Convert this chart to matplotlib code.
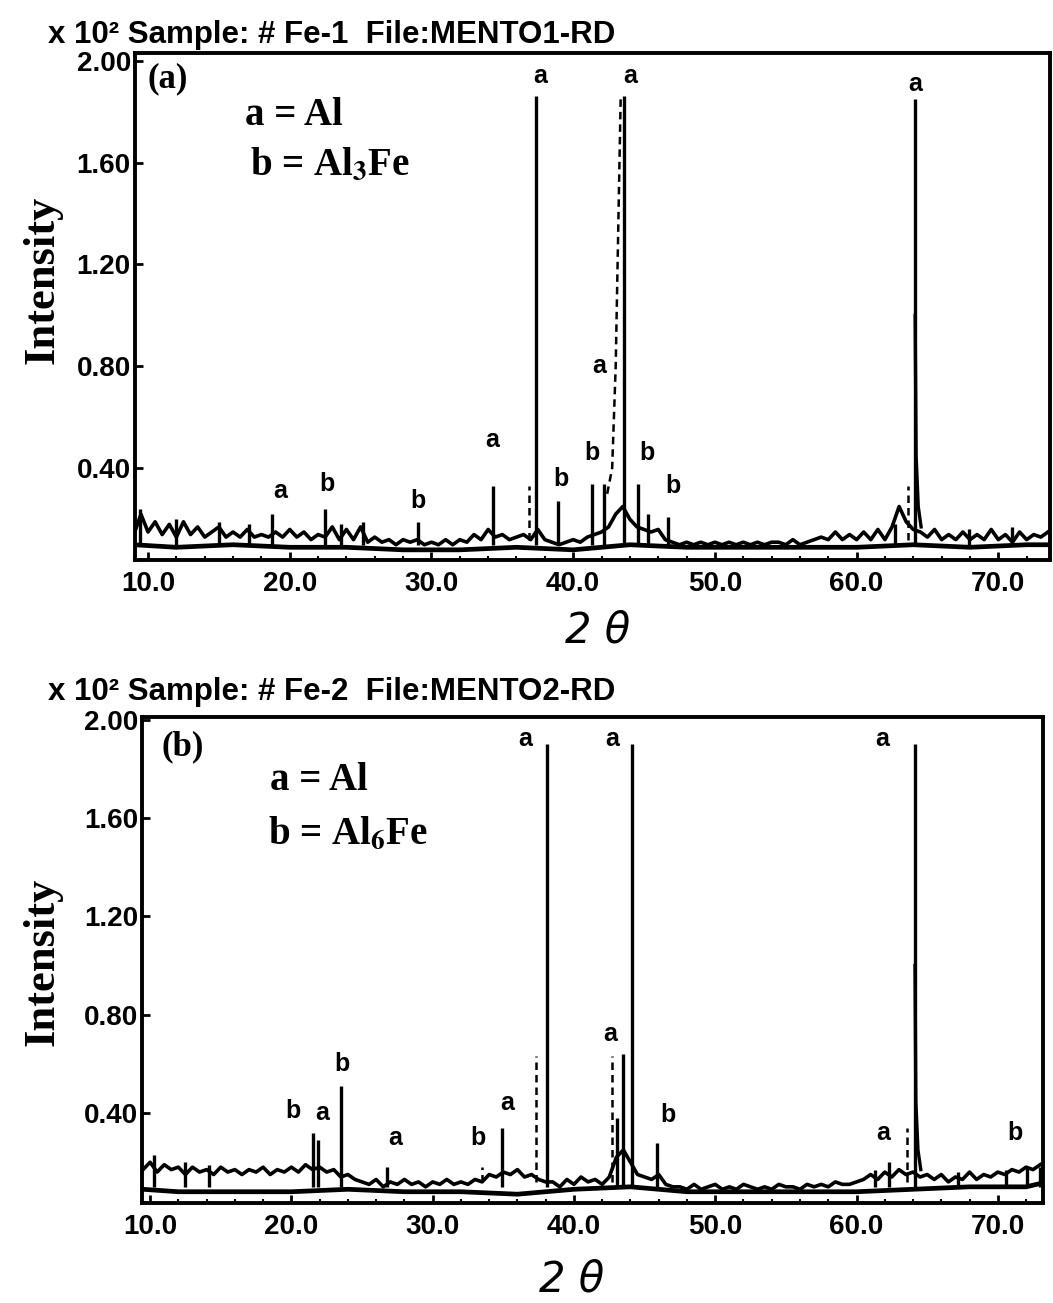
import numpy as np
import matplotlib
matplotlib.use("Agg")
import matplotlib.pyplot as plt

plt.rcParams['mathtext.fontset'] = 'stix'

# ---------------- panel (a) : Fe-1 ----------------
title_a = "x 10² Sample: # Fe-1  File:MENTO1-RD"
bg_a_theta = np.arange(9.0, 74.0, 0.5)
bg_a_upper = [0.14, 0.22, 0.15, 0.19, 0.14, 0.18, 0.13, 0.19, 0.14, 0.17, 0.13, 0.15, 0.17,
              0.13, 0.15, 0.13, 0.16, 0.13, 0.14, 0.13, 0.15, 0.13, 0.16, 0.13, 0.15, 0.12,
              0.14, 0.13, 0.17, 0.12, 0.16, 0.12, 0.17, 0.11, 0.13, 0.11, 0.12, 0.10, 0.12,
              0.11, 0.12, 0.10, 0.11, 0.10, 0.12, 0.10, 0.12, 0.11, 0.14, 0.12, 0.16, 0.13,
              0.14, 0.12, 0.13, 0.14, 0.12, 0.16, 0.12, 0.11, 0.10, 0.11, 0.12, 0.11, 0.13,
              0.14, 0.15, 0.17, 0.22, 0.25, 0.20, 0.17, 0.16, 0.15, 0.16, 0.12, 0.11, 0.10,
              0.11, 0.10, 0.11, 0.10, 0.11, 0.10, 0.11, 0.10, 0.11, 0.10, 0.11, 0.10, 0.11,
              0.11, 0.10, 0.12, 0.10, 0.11, 0.12, 0.13, 0.12, 0.15, 0.12, 0.14, 0.12, 0.15,
              0.12, 0.16, 0.12, 0.17, 0.25, 0.19, 0.16, 0.15, 0.13, 0.16, 0.12, 0.14, 0.12,
              0.15, 0.12, 0.14, 0.12, 0.16, 0.12, 0.14, 0.11, 0.15, 0.12, 0.14, 0.13, 0.15]
low_a_theta = [9.0, 12.0, 16.0, 20.0, 24.0, 28.0, 32.0, 36.0, 40.0, 44.0, 48.0, 52.0,
               56.0, 60.0, 64.0, 68.0, 72.0, 74.0]
low_a = [0.10, 0.09, 0.10, 0.09, 0.09, 0.08, 0.08, 0.09, 0.08, 0.10, 0.09, 0.09,
         0.09, 0.09, 0.10, 0.09, 0.10, 0.10]
peak_a_pos = [9.4, 12.0, 15.0, 17.1, 18.75, 22.5, 23.6, 25.2, 29.05, 34.35, 37.38, 38.9,
              41.3, 42.2, 43.6, 44.6, 45.3, 46.7, 62.7, 64.13, 67.9, 71.0]
peak_a_h = [0.24, 0.20, 0.19, 0.18, 0.22, 0.24, 0.18, 0.19, 0.19, 0.33, 1.86, 0.27,
            0.34, 0.34, 1.86, 0.34, 0.22, 0.21, 0.18, 1.85, 0.16, 0.17]
dash_a_pos = [36.85, 63.6]
dash_a_h = [0.33, 0.33]
shoulder_a_theta = [42.4, 42.75, 43.0, 43.2, 43.35]
shoulder_a_I = [0.30, 0.40, 0.80, 1.40, 1.85]
tail_a_theta = [64.13, 64.2, 64.35, 64.55]
tail_a_I = [1.00, 0.45, 0.25, 0.17]
lab_a_text = ['a', 'b', 'b', 'a', 'b', 'b', 'a', 'b', 'b', 'a', 'a', 'a']
lab_a_theta = [19.3, 22.6, 29.05, 34.3, 39.15, 41.3, 41.8, 45.2, 47.05, 37.65, 44.0, 64.1]
lab_a_I = [0.31, 0.34, 0.27, 0.51, 0.36, 0.46, 0.80, 0.46, 0.33, 1.94, 1.94, 1.91]

# ---------------- panel (b) : Fe-2 ----------------
title_b = "x 10² Sample: # Fe-2  File:MENTO2-RD"
bg_b_theta = np.arange(9.5, 73.5, 0.5)
bg_b_upper = [0.17, 0.20, 0.16, 0.19, 0.17, 0.18, 0.15, 0.18, 0.16, 0.17,   # 9.5-14
              0.15, 0.18, 0.16, 0.17, 0.15, 0.17, 0.16, 0.18, 0.15, 0.17,   # 14.5-19
              0.16, 0.18, 0.16, 0.19, 0.17, 0.18, 0.16, 0.17, 0.14, 0.15,   # 19.5-24
              0.13, 0.12, 0.11, 0.13, 0.10, 0.12, 0.11, 0.13, 0.11, 0.12,   # 24.5-29
              0.10, 0.12, 0.11, 0.13, 0.11, 0.12, 0.11, 0.13, 0.12, 0.15,   # 29.5-34
              0.14, 0.16, 0.15, 0.17,                                       # 34.5-36
              0.14, 0.15, 0.13, 0.12,                                       # 36.5-38
              0.12, 0.10, 0.13, 0.11, 0.14, 0.12, 0.13, 0.11, 0.14,         # 38.5-42.5
              0.22, 0.25, 0.20, 0.15,                                       # 43-44.5
              0.14, 0.13, 0.15, 0.11, 0.10,                                 # 45-47
              0.10, 0.09, 0.11, 0.09, 0.10, 0.11, 0.09, 0.10, 0.09, 0.11,   # 47.5-52
              0.10, 0.09, 0.10, 0.09, 0.11, 0.10, 0.10, 0.09, 0.11, 0.10,   # 52.5-57
              0.11, 0.10, 0.12, 0.11, 0.11, 0.12,                           # 57.5-60
              0.13, 0.15, 0.13, 0.16, 0.14, 0.17, 0.15, 0.16,               # 60.5-64
              0.14, 0.15, 0.13, 0.15, 0.12, 0.14, 0.13, 0.16, 0.13, 0.15,   # 64.5-69
              0.14, 0.16, 0.15, 0.17, 0.16, 0.18, 0.17, 0.19]               # 69.5-73
low_b_theta = [9.5, 12.0, 16.0, 20.0, 24.0, 28.0, 32.0, 36.0, 40.0, 44.0, 48.0, 52.0,
               56.0, 60.0, 64.0, 68.0, 72.0, 73.5]
low_b = [0.09, 0.08, 0.08, 0.08, 0.09, 0.08, 0.08, 0.07, 0.09, 0.10, 0.08, 0.08,
         0.08, 0.08, 0.09, 0.10, 0.10, 0.12]
peak_b_pos = [10.3, 12.5, 14.2, 21.5, 21.9, 23.5, 26.8, 34.9, 38.1, 43.05, 43.5, 44.1,
              45.9, 61.3, 62.3, 64.14, 67.2, 70.6, 72.1, 73.0]
peak_b_h = [0.23, 0.20, 0.19, 0.32, 0.29, 0.51, 0.18, 0.34, 1.90, 0.38, 0.64, 1.90,
            0.28, 0.17, 0.20, 1.90, 0.16, 0.17, 0.18, 0.18]
dash_b_pos = [33.5, 37.3, 42.7, 63.6]
dash_b_h = [0.18, 0.63, 0.63, 0.34]
tail_b_theta = [64.14, 64.2, 64.35, 64.55]
tail_b_I = [1.00, 0.45, 0.25, 0.17]
lab_b_text = ['b', 'a', 'b', 'a', 'b', 'a', 'a', 'b', 'a', 'b', 'a', 'a', 'a']
lab_b_theta = [20.1, 22.2, 23.6, 27.35, 33.2, 35.3, 42.55, 46.65, 61.9, 71.2, 36.55, 42.7, 61.8]
lab_b_I = [0.41, 0.40, 0.60, 0.30, 0.30, 0.44, 0.72, 0.39, 0.32, 0.32, 1.92, 1.92, 1.92]

xticks = [10, 20, 30, 40, 50, 60, 70]
yticks = [0.40, 0.80, 1.20, 1.60, 2.00]

sans = ['Liberation Sans', 'DejaVu Sans']
serif = ['Liberation Serif', 'DejaVu Serif']

fig = plt.figure(figsize=(10.53, 13.03), dpi=100)
ax_a = fig.add_axes([0.1282, 0.5702, 0.869, 0.3891])
ax_b = fig.add_axes([0.1349, 0.0767, 0.8556, 0.3730])


def draw(ax, bt, bu, lt, lo, pp, ph, dp, dh, tt, ti, lt_, lx, ly, xlim, ylim):
    ax.plot(bt, bu, color='black', lw=2.6)
    ax.plot(lt, lo, color='black', lw=3.4)
    ax.vlines(pp, 0.10, ph, color='black', lw=2.4)
    ax.vlines(dp, 0.12, dh, color='black', lw=1.8, linestyles=(0, (3, 2)))
    ax.plot(tt, ti, color='black', lw=2.4)
    for t, x, y in zip(lt_, lx, ly):
        ax.text(x, y, t, fontsize=18, fontweight='bold', family=sans,
                ha='center', va='center')
    ax.set_xlim(*xlim)
    ax.set_ylim(*ylim)
    ax.set_xticks(xticks)
    ax.set_xticklabels(['%.1f' % v for v in xticks])
    ax.set_yticks(yticks)
    ax.set_yticklabels(['%.2f' % v for v in yticks])
    ax.set_xticks(np.arange(10, 74, 2), minor=True)
    ax.tick_params(direction='in', length=6, width=2, pad=8)
    ax.tick_params(axis='y', pad=3)
    ax.tick_params(which='minor', direction='in', length=3, width=1.5)
    for lab in ax.get_xticklabels() + ax.get_yticklabels():
        lab.set_family(sans)
        lab.set_fontweight('bold')
        lab.set_fontsize(20)
    for s in ax.spines.values():
        s.set_linewidth(2.8)


draw(ax_a, bg_a_theta, bg_a_upper, low_a_theta, low_a, peak_a_pos, peak_a_h,
     dash_a_pos, dash_a_h, tail_a_theta, tail_a_I, lab_a_text, lab_a_theta, lab_a_I,
     (9.08, 73.65), (0.04, 2.03))
ax_a.plot(shoulder_a_theta, shoulder_a_I, color='black', lw=1.8, ls=(0, (3, 2)))
draw(ax_b, bg_b_theta, bg_b_upper, low_b_theta, low_b, peak_b_pos, peak_b_h,
     dash_b_pos, dash_b_h, tail_b_theta, tail_b_I, lab_b_text, lab_b_theta, lab_b_I,
     (9.43, 73.2), (0.034, 2.01))

# panel tags and legends
ax_a.text(0.014, 0.982, '(a)', transform=ax_a.transAxes, fontsize=25,
          fontweight='bold', family=serif, va='top')
ax_a.text(0.12, 0.858, 'a = Al', transform=ax_a.transAxes, fontsize=28,
          fontweight='bold', family=serif, va='baseline')
ax_a.text(0.126, 0.76, r'b = Al$_\mathbf{3}$Fe', transform=ax_a.transAxes, fontsize=28,
          fontweight='bold', family=serif, va='baseline')
ax_b.text(0.022, 0.973, '(b)', transform=ax_b.transAxes, fontsize=25,
          fontweight='bold', family=serif, va='top')
ax_b.text(0.142, 0.85, 'a = Al', transform=ax_b.transAxes, fontsize=28,
          fontweight='bold', family=serif, va='baseline')
ax_b.text(0.14, 0.74, r'b = Al$_\mathbf{6}$Fe', transform=ax_b.transAxes, fontsize=28,
          fontweight='bold', family=serif, va='baseline')

# titles, y labels, x labels
fig.text(0.0456, 0.967, title_a, fontsize=22.5, fontweight='bold', family=sans, va='baseline')
fig.text(0.0456, 0.4625, title_b, fontsize=22.5, fontweight='bold', family=sans, va='baseline')
fig.text(0.04, 0.785, 'Intensity', rotation=90, fontsize=32, fontweight='bold',
         family=serif, ha='center', va='center')
fig.text(0.04, 0.262, 'Intensity', rotation=90, fontsize=32, fontweight='bold',
         family=serif, ha='center', va='center')
fig.text(0.568, 0.5165, '2 θ', fontsize=30, style='italic', family=['DejaVu Sans'],
         ha='center', va='center')
fig.text(0.543, 0.0177, '2 θ', fontsize=30, style='italic', family=['DejaVu Sans'],
         ha='center', va='center')

fig.savefig('out.png', dpi=100)
